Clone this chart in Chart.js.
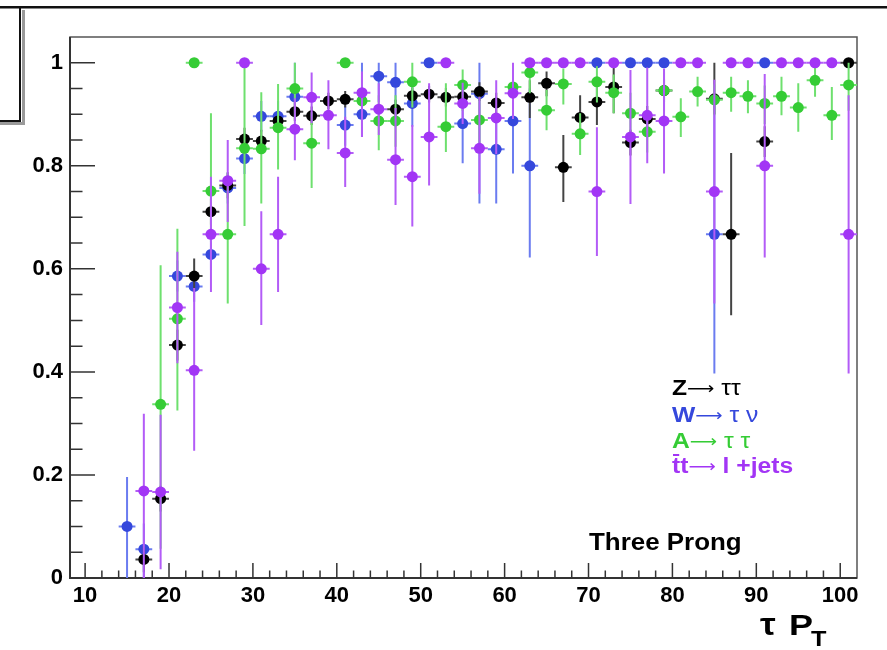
<!DOCTYPE html>
<html>
<head>
<meta charset="utf-8">
<script src="https://cdn.jsdelivr.net/npm/chart.js@4/dist/chart.umd.min.js"></script>
<style>
  html, body { margin: 0; padding: 0; background: #ffffff; }
  canvas { display: block; }
</style>
</head>
<body>
<canvas id="c" width="887" height="650"></canvas>
<script>
// Tau pT bins (bin centres, 2 GeV wide)
const ptBins = [15,17,19,21,23,25,27,29,31,33,35,37,39,41,43,45,47,49,51,53,55,57,59,61,63,65,67,69,71,73,75,77,79,81,83,85,87,89,91,93,95,97,99,101];

// Z -> tau tau
const zEff   = [null,.036,.154,.452,.586,.711,.762,.852,.848,.887,.905,.897,.926,.929,null,null,.910,.936,.939,.933,.934,.944,.922,null,.933,.960,.797,.894,.924,.953,.845,.891,.946,null,null,.930,.667,null,.847,null,null,null,null,1.0];
const zErrUp = [0,.025,.025,.03,.034,.025,.025,.022,.022,.02,.018,.018,.016,.016,0,0,.018,.016,.016,.018,.018,.018,.02,0,.033,.023,.063,.043,.04,.047,.025,.025,.022,0,0,.07,.158,0,.03,0,0,0,0,0];
const zErrDn = [0,.025,.025,.03,.03,.025,.025,.022,.022,.02,.018,.018,.016,.016,0,0,.018,.016,.016,.018,.018,.018,.02,0,.04,.025,.067,.043,.045,.051,.025,.025,.022,0,0,.03,.157,0,.03,0,0,0,0,0];

// W -> tau nu
const wEff   = [.100,.056,null,.586,.566,.628,.757,.814,.896,.896,.934,null,null,.879,.900,.974,.962,.921,1.0,null,.882,.940,.832,.887,.800,null,null,null,1.0,null,1.0,1.0,1.0,null,null,.667,null,null,1.0,null,null,null,null,null];
const wErrUp = [.096,.05,0,.03,.03,.03,.03,.03,.03,.03,.066,0,0,.04,.1,.026,.038,.045,0,0,.06,.06,.07,.07,.15,0,0,0,0,0,0,0,0,0,0,.27,0,0,0,0,0,0,0,0];
const wErrDn = [.1,.056,0,.03,.03,.03,.03,.03,.03,.03,.03,0,0,.04,.044,.05,.05,.045,0,0,.077,.213,.105,.102,.178,0,0,0,0,0,0,0,0,0,0,.27,0,0,0,0,0,0,0,0];

// A -> tau tau
const aEff   = [null,null,.337,.503,1.0,.751,.667,.834,.833,.874,.950,.844,null,1.0,.926,.887,.887,.963,null,.876,.957,.889,null,.953,.981,.908,.959,.862,.963,.942,.902,.866,.946,.895,.944,.928,.942,.935,.921,.935,.913,.966,.898,.957];
const aErrUp = [0,0,.27,.175,0,.151,.12,.16,.11,.085,.05,.06,0,0,.05,.05,.05,.037,0,.084,.03,.045,0,.035,.019,.039,.03,.04,.03,.035,.04,.04,.035,.036,.029,.03,.031,.031,.035,.038,.047,.026,.055,.043];
const aErrDn = [0,0,.28,.178,0,.1,.134,.151,.106,.081,.06,.087,0,0,.05,.057,.05,.05,0,.049,.05,.045,0,.04,.04,.039,.04,.041,.04,.04,.04,.04,.04,.039,.029,.03,.037,.033,.04,.037,.047,.032,.048,.05];

// ttbar -> l + jets
const ttEff   = [null,.169,.167,.525,.403,.667,.771,1.0,.600,.667,.871,.933,.898,.825,.942,.910,.812,.779,.856,1.0,.921,.834,.893,.941,1.0,1.0,1.0,1.0,.750,1.0,.856,.898,.887,1.0,1.0,.750,1.0,1.0,.800,1.0,1.0,1.0,1.0,.667];
const ttErrUp = [0,.15,.15,.108,.16,.112,.079,0,.112,.112,.06,.048,.068,.07,.041,.05,.1,.1,.104,0,.04,.1,.073,.059,0,0,0,0,.125,0,.13,.093,.102,0,0,.217,0,0,.178,0,0,0,0,.27];
const ttErrDn = [0,.169,.15,.108,.156,.112,.08,0,.109,.112,.06,.05,.066,.066,.086,.05,.088,.097,.094,0,.04,.088,.07,.05,0,0,0,0,.125,0,.13,.093,.102,0,0,.217,0,0,.178,0,0,0,0,.27];

// Axis ticks
const xTickValues = [10,20,30,40,50,60,70,80,90,100];
const xTickLabels = ['10','20','30','40','50','60','70','80','90','100'];
const yTickValues = [0,0.2,0.4,0.6,0.8,1];
const yTickLabels = ['0','0.2','0.4','0.6','0.8','1'];

// Legend entries: [text, style]  b = bold, r = regular, a = arrow
const legendRows = [
  [['Z', 'b'], ['\u27f6', 'a'], [' \u03c4\u03c4', 'r']],
  [['W', 'b'], ['\u27f6', 'a'], [' \u03c4 \u03bd', 'r']],
  [['A', 'b'], ['\u27f6', 'a'], [' \u03c4 \u03c4', 'r']],
  [['tt', 'b'], ['\u27f6', 'a'], [' l +jets', 'b']]
];
const legendColors = ['#000000', '#3548dc', '#35cc35', '#a235f5'];
const panelLabel = 'Three Prong';

const FONT = "'Liberation Sans', Arial, Helvetica, sans-serif";
const ARROW_FONT = "'DejaVu Sans', sans-serif";
const X_HALF = 1.0;

function points(vals, up, dn) {
  const out = [];
  vals.forEach((v, i) => {
    if (v !== null) out.push({ x: ptBins[i], y: v, up: up[i], dn: dn[i] });
  });
  return out;
}

function series(label, vals, up, dn, color, errColor, order) {
  return {
    label,
    data: points(vals, up, dn),
    showLine: false,
    pointRadius: 5.5,
    pointHoverRadius: 5.5,
    pointBorderWidth: 0,
    pointBackgroundColor: color,
    pointBorderColor: color,
    errColor,
    order
  };
}

// Vertical and horizontal error bars, drawn just before each dataset's markers
const errorBars = {
  id: 'errorBars',
  beforeDatasetDraw(chart, args) {
    const ds = chart.data.datasets[args.index];
    const xs = chart.scales.x, ys = chart.scales.y;
    const ctx = chart.ctx;
    ctx.save();
    ctx.strokeStyle = ds.errColor;
    ctx.lineWidth = 2;
    ds.data.forEach(p => {
      const px = xs.getPixelForValue(p.x);
      const py = ys.getPixelForValue(p.y);
      ctx.beginPath();
      if (p.up > 0 || p.dn > 0) {
        ctx.moveTo(px, ys.getPixelForValue(p.y + p.up));
        ctx.lineTo(px, ys.getPixelForValue(p.y - p.dn));
      }
      ctx.moveTo(xs.getPixelForValue(p.x - X_HALF), py);
      ctx.lineTo(xs.getPixelForValue(p.x + X_HALF), py);
      ctx.stroke();
    });
    ctx.restore();
  }
};

// Frame, inward tick marks, texts and the pad decorations
const decorations = {
  id: 'decorations',
  beforeDatasetsDraw(chart) {
    const ctx = chart.ctx;
    const a = chart.chartArea;
    const xs = chart.scales.x, ys = chart.scales.y;
    ctx.save();
    // frame
    ctx.strokeStyle = '#555555';
    ctx.lineWidth = 1.5;
    ctx.strokeRect(a.left, a.top, a.right - a.left, a.bottom - a.top);
    ctx.strokeStyle = '#333333';
    ctx.lineWidth = 2;
    ctx.beginPath();
    ctx.moveTo(a.left, a.top); ctx.lineTo(a.left, a.bottom); ctx.lineTo(a.right, a.bottom);
    ctx.stroke();
    // x ticks
    ctx.lineWidth = 1.5;
    ctx.strokeStyle = '#333333';
    ctx.beginPath();
    for (let v = 10; v <= 100; v += 2) {
      const px = xs.getPixelForValue(v);
      const len = (v % 10 === 0) ? 15 : 7.5;
      ctx.moveTo(px, a.bottom); ctx.lineTo(px, a.bottom - len);
    }
    // y ticks
    for (let k = 0; k <= 20; k++) {
      const v = k * 0.05;
      const py = ys.getPixelForValue(v);
      const len = (k % 4 === 0) ? 25 : 12.5;
      ctx.moveTo(a.left, py); ctx.lineTo(a.left + len, py);
    }
    ctx.stroke();
    ctx.restore();
  },
  afterDraw(chart) {
    const ctx = chart.ctx;
    ctx.save();
    // pad decorations at the top
    ctx.fillStyle = '#9a9a9a';
    ctx.fillRect(22, 10, 3, 115);
    ctx.fillRect(0, 122, 25, 3);
    ctx.fillStyle = '#111111';
    ctx.fillRect(0, 6, 887, 2.5);
    ctx.fillRect(19, 6, 2, 116);
    ctx.fillRect(0, 120, 21, 2);

    const txt = (str, x, y, font, color, sx) => {
      ctx.save();
      ctx.font = font; ctx.fillStyle = color;
      ctx.textAlign = 'left'; ctx.textBaseline = 'alphabetic';
      ctx.translate(x, y); ctx.scale(sx, 1);
      ctx.fillText(str, 0, 0);
      const w = ctx.measureText(str).width * sx;
      ctx.restore();
      return w;
    };

    // legend
    const baselines = [395, 421.5, 447.5, 473];
    legendRows.forEach((row, r) => {
      let x = 672;
      row.forEach(([s, style], j) => {
        let font, y = baselines[r];
        if (style === 'b') font = 'bold 22px ' + FONT;
        else if (style === 'a') { font = '17px ' + ARROW_FONT; y -= 1; }
        else font = '22px ' + FONT;
        const w = txt(s, x, y, font, legendColors[r], 1.12);
        if (r === 3 && j === 0) {
          // bar over the first t of t-tbar
          ctx.fillStyle = legendColors[r];
          ctx.fillRect(x + 1, baselines[r] - 19, w / 2 - 2, 2);
        }
        x += w;
      });
    });

    // panel label
    txt(panelLabel, 589, 550, 'bold 24px ' + FONT, '#000000', 1.08);

    // x-axis title
    txt('\u03c4', 760, 635, 'bold 32px ' + FONT, '#000000', 1.1);
    txt('P', 789, 635, 'bold 30px ' + FONT, '#000000', 1.2);
    txt('T', 811, 646, 'bold 22px ' + FONT, '#000000', 1.15);
    ctx.restore();
  }
};

const chart = new Chart(document.getElementById('c'), {
  type: 'scatter',
  data: {
    datasets: [
      series('Z\u2192\u03c4\u03c4', zEff, zErrUp, zErrDn, '#000000', '#444444', 3),
      series('W\u2192\u03c4\u03bd', wEff, wErrUp, wErrDn, '#3548dc', '#6b7cf0', 4),
      series('A\u2192\u03c4\u03c4', aEff, aErrUp, aErrDn, '#35cc35', '#6ee06e', 2),
      series('tt\u2192l+jets', ttEff, ttErrUp, ttErrDn, '#a235f5', '#b35cf7', 1)
    ]
  },
  options: {
    responsive: false,
    animation: false,
    events: [],
    layout: { padding: { top: 37, right: 30, left: 0, bottom: 0 } },
    scales: {
      x: {
        type: 'linear',
        min: 8.2,
        max: 102,
        grid: { display: false, drawTicks: false },
        border: { display: false },
        afterBuildTicks: s => { s.ticks = xTickValues.map(v => ({ value: v })); },
        afterFit: s => { s.height = 72; },
        ticks: {
          autoSkip: false, maxRotation: 0, padding: 5, color: '#000000',
          font: { family: FONT, size: 22, weight: 'bold' },
          callback: (v, i) => xTickLabels[i]
        }
      },
      y: {
        type: 'linear',
        min: 0,
        max: 1.05,
        grid: { display: false, drawTicks: false },
        border: { display: false },
        afterBuildTicks: s => { s.ticks = yTickValues.map(v => ({ value: v })); },
        afterFit: s => { s.width = 70; },
        ticks: {
          autoSkip: false, padding: 7, color: '#000000',
          font: { family: FONT, size: 22, weight: 'bold' },
          callback: (v, i) => yTickLabels[i]
        }
      }
    },
    plugins: { legend: { display: false }, tooltip: { enabled: false } }
  },
  plugins: [errorBars, decorations]
});
</script>
</body>
</html>
